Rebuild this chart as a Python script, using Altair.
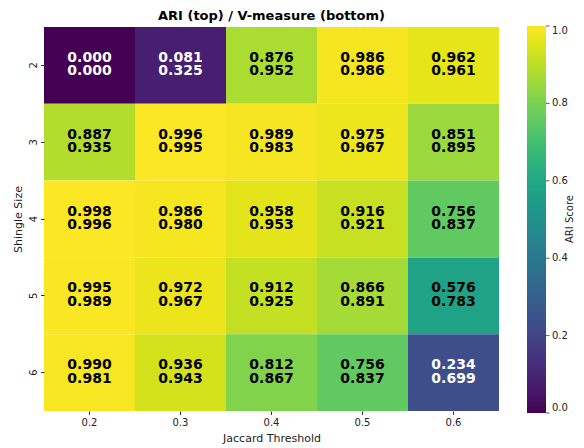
import altair as alt
import pandas as pd

thresholds = ["0.2", "0.3", "0.4", "0.5", "0.6"]
shingles = [2, 3, 4, 5, 6]
ari = [
    [0.000, 0.081, 0.876, 0.986, 0.962],
    [0.887, 0.996, 0.989, 0.975, 0.851],
    [0.998, 0.986, 0.958, 0.916, 0.756],
    [0.995, 0.972, 0.912, 0.866, 0.576],
    [0.990, 0.936, 0.812, 0.756, 0.234],
]
vmeasure = [
    [0.000, 0.325, 0.952, 0.986, 0.961],
    [0.935, 0.995, 0.983, 0.967, 0.895],
    [0.996, 0.980, 0.953, 0.921, 0.837],
    [0.989, 0.967, 0.925, 0.891, 0.783],
    [0.981, 0.943, 0.867, 0.837, 0.699],
]
colorbar_ticks = [0, 0.2, 0.4, 0.6, 0.8, 1.0]

rows = []
for i, s in enumerate(shingles):
    for j, t in enumerate(thresholds):
        rows.append({"shingle": s, "threshold": t, "ari": ari[i][j], "vm": vmeasure[i][j],
                     "ari_s": f"{ari[i][j]:.3f}", "vm_s": f"{vmeasure[i][j]:.3f}"})
df = pd.DataFrame(rows)

FONT = "DejaVu Sans"
W, H = 455, 384
LX = 483          # colorbar left, relative to plot area
CB_T = 19         # colorbar thickness
CB_LEN = 387

x = alt.X("threshold:O", sort=thresholds, title="Jaccard Threshold",
          scale=alt.Scale(paddingInner=0, paddingOuter=0),
          axis=alt.Axis(labelAngle=0, domain=False, tickSize=3.5, tickColor="#333",
                        labelFontSize=10, titleFontSize=11, labelPadding=3, titlePadding=5,
                        labelColor="#222", titleColor="#222", titleFontWeight="normal"))
y = alt.Y("shingle:O", sort=shingles, title="Shingle Size",
          scale=alt.Scale(paddingInner=0, paddingOuter=0),
          axis=alt.Axis(labelAngle=270, domain=False, tickSize=3.5, tickColor="#333",
                        labelFontSize=10, titleFontSize=11, labelPadding=7, titlePadding=5,
                        labelBaseline="middle", labelAlign="center",
                        labelColor="#222", titleColor="#222", titleFontWeight="normal"))

heat = alt.Chart(df).mark_rect().encode(
    x=x, y=y,
    color=alt.Color("ari:Q", title=None,
                    scale=alt.Scale(scheme="viridis", domain=[0, 1]),
                    legend=alt.Legend(orient="none", legendX=LX, legendY=-1,
                                      direction="vertical", gradientLength=CB_LEN,
                                      gradientThickness=CB_T, values=colorbar_ticks,
                                      format=".1f", labelFontSize=10, labelColor="#222",
                                      labelOffset=6, labelBaseline="middle",
                                      gradientStrokeWidth=0)),
)

txt_color = alt.condition(alt.datum.ari < 0.5, alt.value("white"), alt.value("black"))
top = alt.Chart(df).mark_text(fontSize=14, fontWeight="bold", font=FONT, dy=-7.5).encode(
    x=alt.X("threshold:O", sort=thresholds), y=alt.Y("shingle:O", sort=shingles),
    text="ari_s:N", color=txt_color)
bot = alt.Chart(df).mark_text(fontSize=14, fontWeight="bold", font=FONT, dy=6).encode(
    x=alt.X("threshold:O", sort=thresholds), y=alt.Y("shingle:O", sort=shingles),
    text="vm_s:N", color=txt_color)

cb_title = alt.Chart(pd.DataFrame({"t": ["ARI Score"]})).mark_text(
    angle=270, fontSize=10, font=FONT, color="#222", baseline="middle", align="center"
).encode(x=alt.value(W + 71), y=alt.value(H / 2), text="t:N")

cb_ticks = alt.Chart(pd.DataFrame({"v": colorbar_ticks})).mark_rule(
    color="#333", strokeWidth=0.8
).encode(
    x=alt.value(LX + CB_T), x2=alt.value(LX + CB_T + 3.5),
    y=alt.Y("v:Q", scale=alt.Scale(domain=[0, 1], range=[CB_LEN - 1, -1]), axis=None),
)

main = alt.layer(heat, top, bot, cb_title)

chart = alt.layer(main, cb_ticks).resolve_scale(y="independent").properties(
    width=W, height=H,
    title=alt.Title("ARI (top) / V-measure (bottom)", fontSize=13, fontWeight="bold",
                    font=FONT, anchor="middle", offset=3, color="#000"),
    autosize=alt.AutoSizeParams(type="none"),
    padding={"left": 36, "top": 19, "right": 77, "bottom": 36},
).configure(font=FONT).configure_view(stroke=None).configure_axis(labelFont=FONT, titleFont=FONT)

chart.save("out.html", embed_options={"renderer": "svg", "actions": False})
